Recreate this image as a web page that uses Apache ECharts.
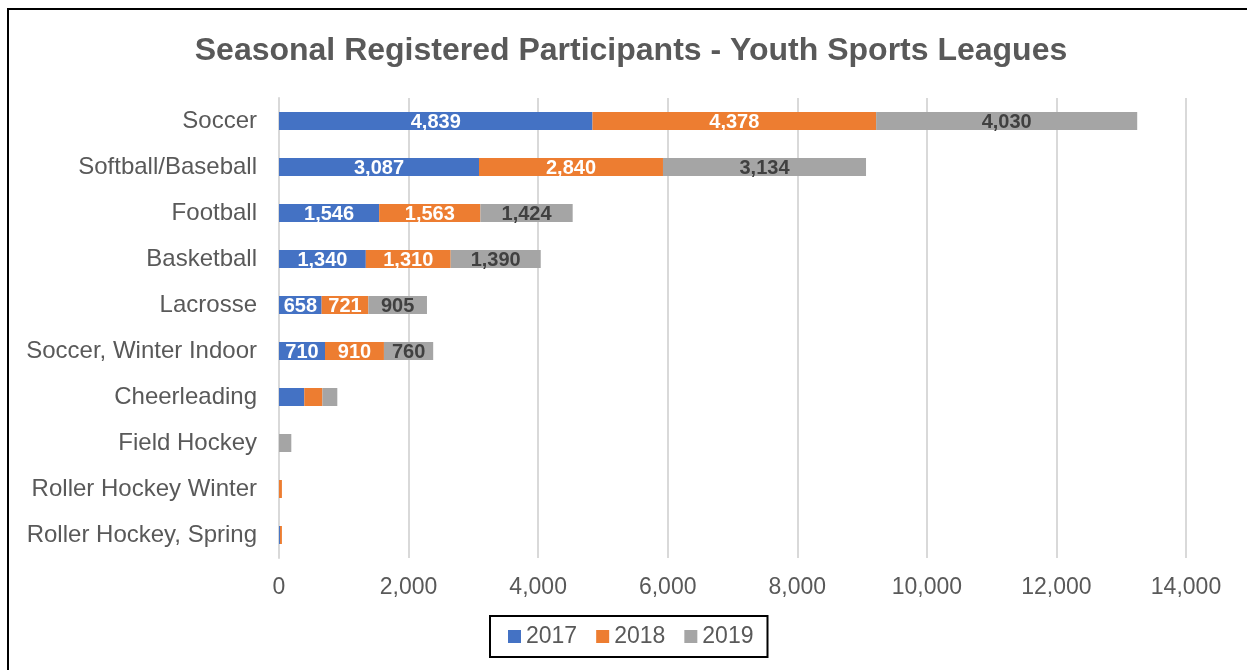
<!DOCTYPE html>
<html>
<head>
<meta charset="utf-8">
<script src="https://cdn.jsdelivr.net/npm/echarts@6/dist/echarts.min.js"></script>
<style>
  html, body { margin: 0; padding: 0; background: #fff; overflow: hidden; }
  #frame { position: absolute; left: 7px; top: 8px; width: 1300px; height: 700px; border: 2px solid #000; box-sizing: border-box; }
  #chart { position: absolute; left: 0; top: 0; width: 1247px; height: 670px; }
</style>
</head>
<body>
<div id="frame"></div>
<div id="chart"></div>
<script>
const categories = ['Soccer', 'Softball/Baseball', 'Football', 'Basketball', 'Lacrosse',
    'Soccer, Winter Indoor', 'Cheerleading', 'Field Hockey', 'Roller Hockey Winter', 'Roller Hockey, Spring'];
const years = ['2017', '2018', '2019'];
const values2017 = [4839, 3087, 1546, 1340, 658, 710, 390, 0, 0, 15];
const values2018 = [4378, 2840, 1563, 1310, 721, 910, 280, 0, 45, 30];
const values2019 = [4030, 3134, 1424, 1390, 905, 760, 230, 190, 0, 0];
const xTicks = { min: 0, max: 14000, interval: 2000 };

const colors = ['#4472C4', '#ED7D31', '#A5A5A5'];
const labelColors = ['#fff', '#fff', '#404040'];
const textGray = '#595959';

const chart = echarts.init(document.getElementById('chart'));

function makeSeries(name, data, i) {
    return {
        name: name,
        type: 'bar',
        stack: 'total',
        barWidth: 18,
        itemStyle: { color: colors[i] },
        label: {
            show: true,
            position: 'inside',
            offset: [0, 1],
            color: labelColors[i],
            fontFamily: 'Liberation Sans',
            fontWeight: 'bold',
            fontSize: 20,
            // small segments carry no label in the original
            formatter: p => p.value >= 600 ? p.value.toLocaleString('en-US') : ''
        },
        data: data
    };
}

chart.setOption({
    animation: false,
    title: {
        text: 'Seasonal Registered Participants - Youth Sports Leagues',
        left: 626,
        textAlign: 'center',
        top: 30,
        textStyle: { fontFamily: 'Liberation Sans', fontWeight: 'bold', fontSize: 32, color: textGray }
    },
    legend: {
        data: years,
        left: 490,
        top: 616,
        padding: [9, 14, 9, 18],
        borderColor: '#000',
        borderWidth: 2,
        itemWidth: 13,
        itemHeight: 13,
        itemGap: 19,
        icon: 'rect',
        textStyle: { fontFamily: 'Liberation Sans', fontSize: 23, color: textGray }
    },
    grid: { left: 279, right: 61, top: 98, bottom: 112, containLabel: false },
    xAxis: {
        type: 'value',
        min: xTicks.min,
        max: xTicks.max,
        interval: xTicks.interval,
        axisLine: { show: false },
        axisTick: { show: false },
        splitLine: { lineStyle: { color: '#d9d9d9', width: 2 } },
        axisLabel: {
            margin: 18,
            fontFamily: 'Liberation Sans',
            fontSize: 23,
            color: textGray,
            formatter: v => v.toLocaleString('en-US')
        }
    },
    yAxis: {
        type: 'category',
        inverse: true,
        data: categories,
        axisLine: { show: true, lineStyle: { color: '#d9d9d9', width: 2 } },
        axisTick: { show: false },
        axisLabel: { margin: 22, fontFamily: 'Liberation Sans', fontSize: 24, color: textGray, padding: [3, 0, 0, 0] }
    },
    series: [
        makeSeries(years[0], values2017, 0),
        makeSeries(years[1], values2018, 1),
        makeSeries(years[2], values2019, 2)
    ]
});
</script>
</body>
</html>
